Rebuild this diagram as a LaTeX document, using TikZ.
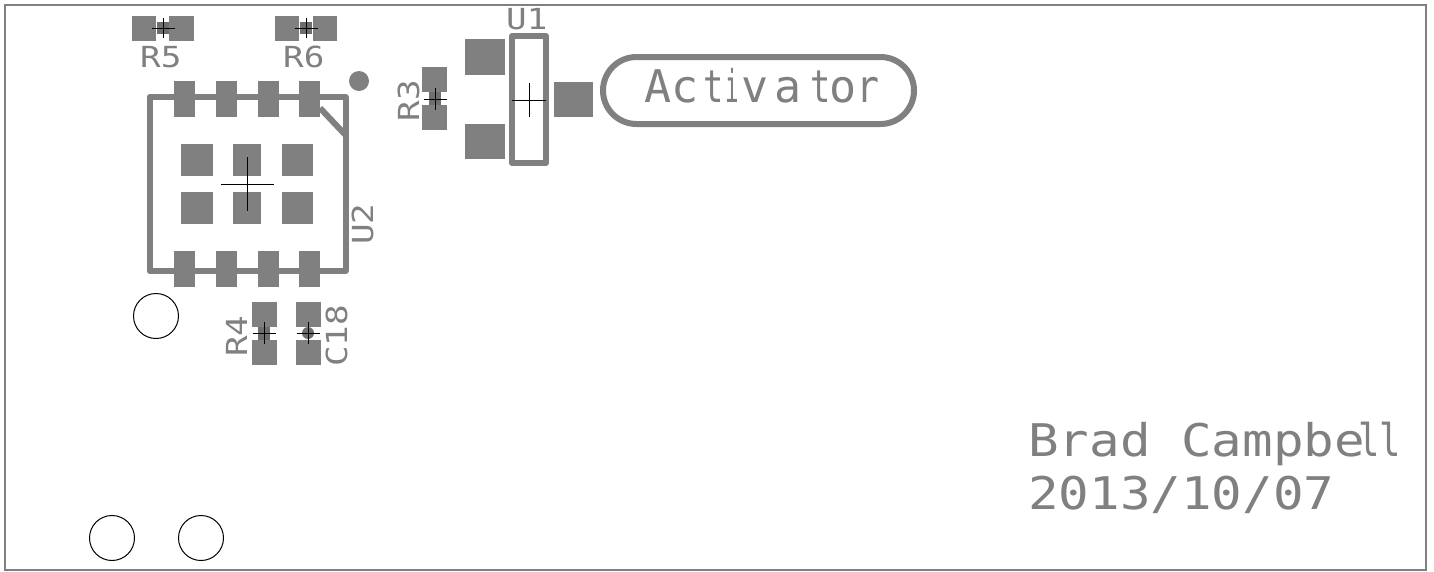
\documentclass[tikz,border=0pt]{standalone}
\usepackage{fontspec}
\usepackage{graphicx}
\newfontfamily\silk{DejaVu Sans Mono}
\definecolor{silkgray}{HTML}{808080}
\definecolor{coregray}{HTML}{6E6E6E}
\tikzset{
  padfill/.style={fill=silkgray},
  corefill/.style={fill=coregray},
  silkline/.style={draw=silkgray,line width=6pt,line join=round},
  crossline/.style={draw=black,line width=1pt},
  holeline/.style={draw=black,line width=1pt},
  small/.style={text=silkgray,inner sep=0pt,anchor=base west,font=\silk\fontsize{29}{29}\selectfont},
  large/.style={text=silkgray,inner sep=0pt,anchor=base west,font=\silk\fontsize{45}{45}\selectfont},
}
\newcommand{\wideS}[1]{\scalebox{1.18}[1]{#1}}
\newcommand{\wideL}[1]{\scalebox{1.13}[1]{#1}}
\newcommand{\nar}[2]{\scalebox{#1}[1]{#2}}
\newcommand{\padbox}[4]{\fill[padfill] (#1,#2) rectangle (#3,#4);}
\newcommand{\crossmark}[3]{\draw[crossline] (#1-11.5,#2) -- (#1+11.5,#2) (#1,#2-#3) -- (#1,#2+#3);}
\begin{document}
\begin{tikzpicture}[x=1pt,y=-1pt]
\useasboundingbox (0,0) rectangle (1434,571);
\fill[white] (0,0) rectangle (1434,571);
% board edge
\draw[draw=silkgray,line width=1.5pt] (5,5) -- (1426,5) -- (1426,570) -- (5,570) -- cycle;
% R5
\padbox{132}{16}{156}{41}\padbox{169}{16}{194}{41}
\fill[corefill] (157,22) rectangle (169,34);
\crossmark{163}{28}{10}
\node[small] (r5) at (140,67) {\wideS{R5}};
% R6
\padbox{275}{16}{299}{41}\padbox{313}{16}{337}{41}
\fill[corefill] (300,22) rectangle (312,34);
\crossmark{306}{28}{10}
\node[small] (r6) at (283,67) {\wideS{R6}};
% U2
\fill[padfill] (359,81) circle (10);
\draw[silkline] (149.5,97) -- (345.5,97) -- (345.5,271) -- (149.5,271) -- cycle;
\draw[silkline] (320,108) -- (345.5,135);
\foreach \px in {174,216,258,299}{
  \padbox{\px}{81}{\px+21}{117}
  \padbox{\px}{251}{\px+21}{287}
}
\foreach \py in {144,192}{
  \padbox{181}{\py}{213}{\py+32}
  \padbox{233}{\py}{261}{\py+32}
  \padbox{282}{\py}{313}{\py+32}
}
\draw[crossline] (221,184) -- (274,184) (247,157) -- (247,211);
\node[small,rotate=90] (u2) at (373,245) {\wideS{U2}};
% R4, C18
\padbox{252}{302}{277}{327}\padbox{252}{340}{277}{365}
\fill[corefill] (258,327) rectangle (270,340);
\crossmark{264}{333}{11}
\node[small,rotate=90] (r4) at (247,357) {\wideS{R4}};
\padbox{296}{302}{321}{327}\padbox{296}{340}{321}{365}
\fill[corefill] (308,333) circle (6);
\crossmark{308}{333}{11}
\node[small,rotate=90] (c18) at (347,367) {\wideS{C18}};
% R3
\padbox{422}{67}{447}{92}\padbox{422}{105}{447}{130}
\fill[corefill] (429,92) rectangle (441,105);
\crossmark{435}{99}{11}
\node[small,rotate=90] (r3) at (419,121.5) {\wideS{R3}};
% U1
\padbox{465}{39}{505}{75}\padbox{465}{124}{505}{159}\padbox{554}{82}{593}{117}
\draw[draw=silkgray,line width=6pt,line join=round] (512,36) rectangle (546,163);
\draw[crossline] (512,100) -- (546,100) (529,83) -- (529,117);
\node[small] (u1) at (506,29) {\wideS{U1}};
% Activator
\draw[draw=silkgray,line width=6pt,rounded corners=33.5pt] (603,57) rectangle (914,124);
\node[large] (act) at (644,102) {Ac\kern4.7pt\nar{.75}{t}\kern2.4pt\nar{.5}{i}\kern2.5pt v\kern6pt a\kern8pt\nar{.75}{t}\kern-1pt o\nar{.85}{r}};
% Text
\node[large] (brad) at (1028,456) {\wideL{Brad Campbe\kern-6pt\nar{.7}{l}\nar{.7}{l}}};
\node[large] (date) at (1028,509) {\wideL{2013/10/07}};
% Holes
\draw[holeline] (156,316) circle (22.5);
\draw[holeline] (112,538) circle (22.5);
\draw[holeline] (201,538) circle (22.5);
\end{tikzpicture}
\end{document}
